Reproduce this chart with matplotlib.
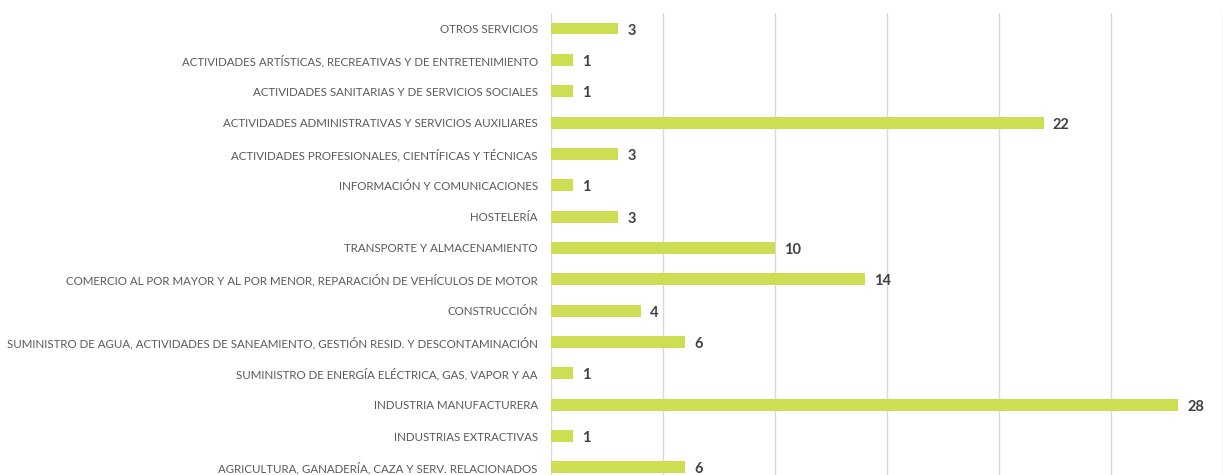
import matplotlib.pyplot as plt

# Categories, bottom to top as drawn
sectores = [
    "AGRICULTURA, GANADERÍA, CAZA Y SERV. RELACIONADOS",
    "INDUSTRIAS EXTRACTIVAS",
    "INDUSTRIA MANUFACTURERA",
    "SUMINISTRO DE ENERGÍA ELÉCTRICA, GAS, VAPOR Y AA",
    "SUMINISTRO DE AGUA, ACTIVIDADES DE SANEAMIENTO, GESTIÓN RESID. Y DESCONTAMINACIÓN",
    "CONSTRUCCIÓN",
    "COMERCIO AL POR MAYOR Y AL POR MENOR, REPARACIÓN DE VEHÍCULOS DE MOTOR",
    "TRANSPORTE Y ALMACENAMIENTO",
    "HOSTELERÍA",
    "INFORMACIÓN Y COMUNICACIONES",
    "ACTIVIDADES PROFESIONALES, CIENTÍFICAS Y TÉCNICAS",
    "ACTIVIDADES ADMINISTRATIVAS Y SERVICIOS AUXILIARES",
    "ACTIVIDADES SANITARIAS Y DE SERVICIOS SOCIALES",
    "ACTIVIDADES ARTÍSTICAS, RECREATIVAS Y DE ENTRETENIMIENTO",
    "OTROS SERVICIOS",
]
empresas = [6, 1, 28, 1, 6, 4, 14, 10, 3, 1, 3, 22, 1, 1, 3]

label_font = ['Lato', 'DejaVu Sans']

fig = plt.figure(figsize=(12.23, 4.75), dpi=100)
ax = fig.add_axes([0.4505, -0.017, 0.5495, 0.99])

y = range(len(sectores))
ax.barh(y, empresas, height=0.38, color='#CDDE53', zorder=3)

for yi, v in zip(y, empresas):
    ax.annotate(str(v), xy=(v, yi), xytext=(6.5, -1.5), textcoords='offset points',
                va='center', ha='left', fontsize=10.5, fontweight='bold',
                color='#404040', family=label_font)

ax.set_xlim(0, 30)
ax.set_ylim(-0.5, len(sectores) - 0.5)
ax.set_xticks(range(0, 31, 5))
ax.set_xticklabels([])
ax.set_yticks(list(y))
ax.set_yticklabels(sectores, fontsize=8.3, color='#595959', family=label_font)
ax.tick_params(axis='both', length=0, pad=9.5)
ax.grid(axis='x', color='#D9D9D9', linewidth=1, zorder=0)
for s in ax.spines.values():
    s.set_visible(False)

fig.savefig('out.png', dpi=100)
